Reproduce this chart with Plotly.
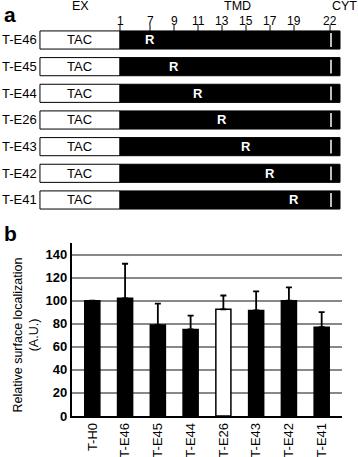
import plotly.graph_objects as go

# ---------- data ----------
constructs = ["T-E46", "T-E45", "T-E44", "T-E26", "T-E43", "T-E42", "T-E41"]
arg_position = [7, 9, 11, 13, 15, 17, 19]
tmd_tick_labels = ["1", "7", "9", "11", "13", "15", "17", "19", "22"]
tmd_tick_residue = [4.5, 7, 9, 11, 13, 15, 17, 19, 22]   # schematic positions (not to scale)

categories = ["T-H0", "T-E46", "T-E45", "T-E44", "T-E26", "T-E43", "T-E42", "T-E41"]
values = [100, 102, 79, 75, 92.5, 91.5, 100, 77]
err_up = [0, 30, 18.5, 12, 12, 16.5, 11.5, 13]
bar_colors = ["black", "black", "black", "black", "white", "black", "black", "black"]

FONT = "Liberation Sans, Arial, sans-serif"

fig = go.Figure()

# ---------- panel b : bar chart ----------
fig.add_trace(go.Bar(
    x=list(range(len(categories))), y=values, width=0.46,
    marker=dict(color=bar_colors, line=dict(color="black", width=1.5)),
    error_y=dict(type="data", symmetric=False, array=err_up,
                 arrayminus=[0] * len(values), color="black",
                 thickness=1.8, width=3),
    xaxis="x", yaxis="y", showlegend=False, hoverinfo="skip",
))

# black emphasis gridlines
for yv in [40, 100]:
    fig.add_shape(type="line", xref="x domain", yref="y", x0=0, x1=1, y0=yv, y1=yv,
                  line=dict(color="black", width=1.2), layer="below")

# ---------- panel a : schematic ----------
TAC_START, TMD_START, TMD_END, CYT_LINE = -2.17, 4.5, 22.83, 22.08
H = 0.34
shapes = []
annos = []
for i, (name, rpos) in enumerate(zip(constructs, arg_position)):
    shapes.append(dict(type="rect", xref="x2", yref="y2", x0=TAC_START, x1=TMD_START,
                       y0=i - H, y1=i + H, fillcolor="white",
                       line=dict(color="black", width=1)))
    shapes.append(dict(type="rect", xref="x2", yref="y2", x0=TMD_START, x1=TMD_END,
                       y0=i - H, y1=i + H, fillcolor="black",
                       line=dict(color="black", width=1)))
    shapes.append(dict(type="line", xref="x2", yref="y2", x0=CYT_LINE, x1=CYT_LINE,
                       y0=i - H + 0.08, y1=i + H - 0.08,
                       line=dict(color="white", width=1.5)))
    annos.append(dict(xref="x2", yref="y2", x=(TAC_START + TMD_START) / 2, y=i,
                      text="TAC", showarrow=False,
                      font=dict(family=FONT, size=13, color="black")))
    annos.append(dict(xref="x2", yref="y2", x=rpos, y=i, text="<b>R</b>",
                      showarrow=False, font=dict(family=FONT, size=13, color="white")))
    annos.append(dict(xref="x2", yref="y2", x=TAC_START, y=i, text=name,
                      showarrow=False, xanchor="right", xshift=-1,
                      font=dict(family=FONT, size=13, color="black")))

for lab, pos in zip(tmd_tick_labels, tmd_tick_residue):
    shapes.append(dict(type="line", xref="x2", yref="y2", x0=pos, x1=pos,
                       y0=-H - 0.22, y1=-H, line=dict(color="black", width=1)))
    annos.append(dict(xref="x2", yref="y2", x=pos, y=-0.72, text=lab, showarrow=False,
                      xanchor="center", yanchor="middle", borderpad=0,
                      font=dict(family=FONT, size=12, color="black")))

for lab, pos, anc in [("EX", 1.17, "center"), ("TMD", 14.33, "center"), ("CYT", 24.3, "right")]:
    annos.append(dict(xref="x2", yref="y2", x=pos, y=-1.27, text=lab, showarrow=False,
                      xanchor=anc, yanchor="middle", borderpad=0,
                      font=dict(family=FONT, size=12.5, color="black")))

# panel letters
annos.append(dict(xref="paper", yref="paper", x=2 / 358, y=1 - 1 / 457, xanchor="left",
                  yanchor="top", text="<b>a</b>", showarrow=False,
                  font=dict(family=FONT, size=21, color="black")))
annos.append(dict(xref="paper", yref="paper", x=2 / 358, y=1 - 220 / 457, xanchor="left",
                  yanchor="top", text="<b>b</b>", showarrow=False,
                  font=dict(family=FONT, size=21, color="black")))
# y-axis title panel b
annos.append(dict(xref="paper", yref="paper", x=25.5 / 358, y=1 - 335 / 457,
                  xanchor="center", yanchor="middle",
                  text="Relative surface localization<br>(A.U.)", textangle=-90,
                  showarrow=False, font=dict(family=FONT, size=12.5, color="black")))

for s in shapes:
    fig.add_shape(**s)

fig.update_layout(
    width=358, height=457, margin=dict(l=0, r=0, t=0, b=0, autoexpand=False),
    paper_bgcolor="white", plot_bgcolor="white",
    font=dict(family=FONT, color="black"),
    annotations=annos, bargap=0.5,
    xaxis=dict(domain=[72 / 358, 342 / 358], range=[-0.62, 7.62],
               tickvals=list(range(len(categories))), ticktext=categories,
               tickangle=-90, showgrid=False, zeroline=False, showline=True,
               linecolor="black", linewidth=1.5, ticks="", anchor="y",
               automargin=False,
               tickfont=dict(family=FONT, size=13, color="black")),
    yaxis=dict(domain=[(457 - 416) / 457, (457 - 243) / 457], range=[0, 150],
               tickvals=[0, 20, 40, 60, 80, 100, 120, 140],
               ticktext=["<b>%d</b>" % v for v in [0, 20, 40, 60, 80, 100, 120, 140]],
               showgrid=True, gridcolor="#888888", gridwidth=1.5, zeroline=False,
               showline=True, linecolor="black", linewidth=2.2, ticks="",
               anchor="x", automargin=False,
               tickfont=dict(family=FONT, size=13, color="black")),
    xaxis2=dict(domain=[0, 1], range=[-5.5, 24.33], visible=False, anchor="y2",
                automargin=False),
    yaxis2=dict(domain=[0.5, 1], range=[7.07, -1.5], visible=False, anchor="x2",
                automargin=False),
)

fig.write_html(
    "out.html",
    config={"displayModeBar": False},
    post_script="document.body.style.margin='0';document.body.style.overflow='hidden';",
)
